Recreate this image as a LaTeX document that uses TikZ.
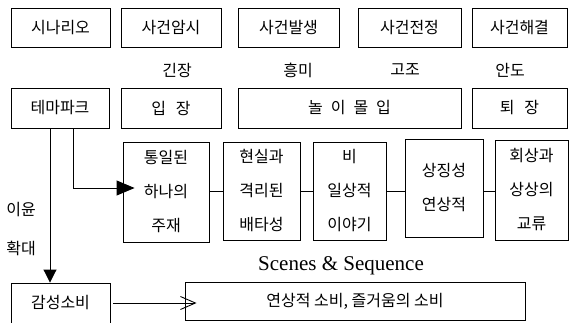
\documentclass[tikz,border=0pt]{standalone}
\usepackage{fontspec}
\newfontfamily\kr{Noto Sans CJK KR}
\newfontfamily\lat{Liberation Serif}
\usetikzlibrary{arrows.meta}
\begin{document}
\begin{tikzpicture}[x=1pt,y=-1pt,
  box/.style={draw, line width=0.9pt, inner sep=0pt, align=center, font=\kr\fontsize{16}{18}\selectfont},
  tallbox/.style={box, font=\kr\fontsize{16}{34}\selectfont},
  lbl/.style={inner sep=0pt, font=\kr\fontsize{16}{18}\selectfont},
  conn/.style={line width=0.9pt}]
\useasboundingbox (0,0) rectangle (570,322);
% top row
\node[box, minimum width=99pt, minimum height=39pt] (sc) at (60.5,27.5) {시나리오};
\node[box, minimum width=100pt, minimum height=39pt] (a1) at (171,27.5) {사건암시};
\node[box, minimum width=101pt, minimum height=39pt] (a2) at (288.5,27.5) {사건발생};
\node[box, minimum width=103pt, minimum height=39pt] (a3) at (409.5,27.5) {사건전정};
\node[box, minimum width=95pt, minimum height=39pt] (a4) at (519.5,27.5) {사건해결};
% labels
\node[lbl] (l1) at (177,70) {긴장};
\node[lbl] (l2) at (298,70) {흥미};
\node[lbl] (l3) at (405,70) {고조};
\node[lbl] (l4) at (510,70) {안도};
% second row
\node[box, minimum width=98pt, minimum height=40pt] (tp) at (60,108) {테마파크};
\node[box, minimum width=100pt, minimum height=40pt] (e1) at (171,108) {입\hspace{0.6em}장};
\node[box, minimum width=223pt, minimum height=40pt] (e2) at (349.5,108) {놀\hspace{0.5em}이\hspace{0.5em}몰\hspace{0.5em}입};
\node[box, minimum width=95pt, minimum height=40pt] (e3) at (519.5,108) {퇴\hspace{0.6em}장};
% third row
\node[tallbox, minimum width=86pt, minimum height=100pt] (r1) at (166,192) {통일된\\하나의\\주재};
\node[tallbox, minimum width=77pt, minimum height=98pt] (r2) at (261.5,191) {현실과\\격리된\\배타성};
\node[tallbox, minimum width=73pt, minimum height=98pt] (r3) at (349.5,191) {비\\일상적\\이야기};
\node[tallbox, minimum width=78pt, minimum height=98pt] (r4) at (444,188) {상징성\\연상적};
\node[tallbox, minimum width=73pt, minimum height=100pt] (r5) at (531.5,190) {회상과\\상상의\\교류};
\draw[conn] (r1.east |- 0,191) coordinate (c1a) -- (r2.west |- 0,191) coordinate (c1b);
\draw[conn] (r2.east |- 0,191) coordinate (c2a) -- (r3.west |- 0,191) coordinate (c2b);
\draw[conn] (r3.east |- 0,191) coordinate (c3a) -- (r4.west |- 0,191) coordinate (c3b);
\draw[conn] (r4.east |- 0,191) coordinate (c4a) -- (r5.west |- 0,191) coordinate (c4b);
% scenes label
\node[inner sep=0pt, font=\lat\fontsize{21}{24}\selectfont] (ss) at (341,266) {Scenes \& Sequence};
% side labels
\node[lbl] (p1) at (21,210) {이윤};
\node[lbl] (p2) at (21,248) {확대};
% bottom row
\node[box, minimum width=99pt, minimum height=40pt] (g) at (60.5,303) {감성소비};
\node[box, minimum width=340pt, minimum height=38pt] (c) at (355,301) {연상적 소비, 즐거움의 소비};
% arrows
\coordinate (t1) at (50,128);
\coordinate (t2) at (73,128);
\coordinate (bend) at (73,188);
\draw[conn, -{Triangle[length=13pt,width=13pt]}] (t1) -- (t1 |- g.north);
\draw[conn, -{Triangle[length=18pt,width=15pt]}, shorten >=-12pt] (t2) -- (bend) -- (bend -| r1.west);
\coordinate (gs) at (113,303);
\draw[conn, -{Straight Barb[length=15pt,width=13pt,line width=0.9pt]}, shorten >=-12pt] (gs) -- (gs -| c.west);
\end{tikzpicture}
\end{document}
